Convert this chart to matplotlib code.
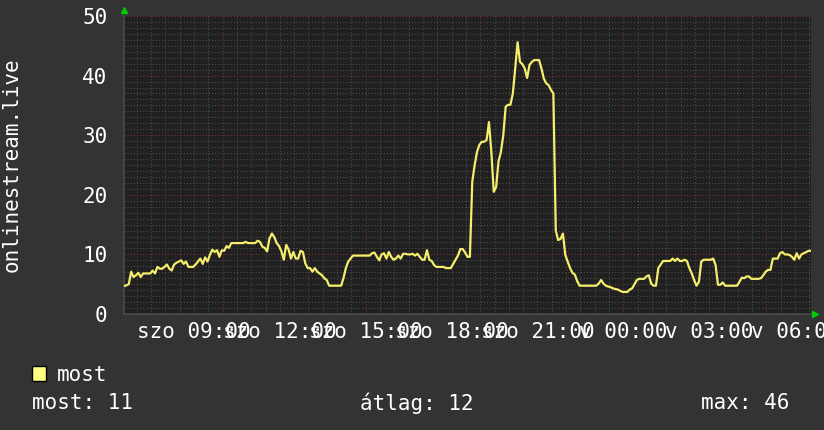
import numpy as np
import matplotlib.pyplot as plt

plt.rcParams['font.family'] = ['DejaVu Sans Mono']

# 5-minute samples, one row per hour, window starts ~06:33 on "szo"
start_hour = 6.555
step_min = 5
most = [
    4.7, 4.8, 5.0, 7.1, 6.2, 6.5, 6.9, 6.2, 6.8, 6.8, 6.8, 6.8,
    7.3, 6.8, 7.9, 7.6, 7.6, 7.9, 8.3, 7.6, 7.3, 8.3, 8.6, 8.8,
    9.0, 8.4, 8.8, 7.9, 7.9, 7.9, 8.3, 8.8, 9.3, 8.4, 9.5, 8.8,
    9.9, 10.8, 10.4, 10.7, 9.6, 10.7, 10.6, 11.4, 11.1, 11.9, 11.9, 11.9,
    11.9, 11.9, 11.9, 12.1, 11.9, 11.9, 11.9, 11.9, 12.3, 12.1, 11.3, 11.1,
    10.5, 12.7, 13.5, 12.9, 11.9, 11.4, 10.5, 9.1, 11.6, 10.8, 9.3, 10.4,
    9.3, 9.3, 10.6, 10.4, 8.5, 7.7, 7.7, 7.1, 7.7, 7.1, 6.8, 6.5,
    6.0, 5.7, 4.75, 4.75, 4.75, 4.75, 4.75, 4.75, 6.0, 7.7, 8.8, 9.3,
    9.8, 9.8, 9.8, 9.8, 9.8, 9.8, 9.8, 9.8, 10.2, 10.3, 9.6, 9.0,
    10.0, 10.2, 9.3, 10.4, 9.6, 9.1, 9.3, 9.8, 9.3, 10.1, 10.1, 10.0,
    10.0, 10.1, 9.8, 10.1, 9.6, 9.1, 9.1, 10.7, 9.1, 8.9, 8.2, 7.9,
    7.9, 7.9, 7.9, 7.7, 7.7, 7.7, 8.4, 9.1, 9.8, 10.9, 10.9, 10.3,
    9.6, 9.6, 22.2, 25.0, 27.2, 28.4, 28.9, 28.9, 29.2, 32.2, 27.2, 20.5,
    21.3, 25.6, 27.2, 30.0, 34.8, 35.1, 35.1, 37.0, 41.2, 45.6, 42.3, 41.9,
    41.2, 39.6, 41.8, 42.3, 42.6, 42.6, 42.6, 41.2, 39.5, 38.7, 38.4, 37.6,
    37.0, 14.0, 12.4, 12.6, 13.5, 9.9, 8.8, 7.7, 6.9, 6.6, 5.5, 4.75,
    4.75, 4.75, 4.75, 4.75, 4.75, 4.75, 4.75, 5.1, 5.7, 5.1, 4.75, 4.6,
    4.5, 4.3, 4.2, 4.1, 3.9, 3.7, 3.7, 3.7, 4.1, 4.3, 5.0, 5.7,
    5.9, 5.9, 5.9, 6.3, 6.5, 5.1, 4.75, 4.75, 7.7, 8.3, 8.9, 8.9,
    8.9, 8.9, 9.3, 8.9, 9.3, 8.9, 8.9, 9.1, 8.9, 7.7, 6.8, 5.7,
    4.75, 5.4, 8.8, 9.1, 9.1, 9.1, 9.1, 9.3, 8.2, 4.9, 4.9, 5.3,
    4.75, 4.75, 4.75, 4.75, 4.75, 4.75, 5.4, 6.1, 6.0, 6.3, 6.3, 5.9,
    5.9, 5.9, 5.9, 6.0, 6.5, 7.1, 7.4, 7.4, 9.3, 9.3, 9.3, 10.2,
    10.4, 10.0, 10.0, 9.9, 9.6, 9.1, 10.2, 9.3, 10.0, 10.2, 10.4, 10.6,
    10.6,
]

tick_hours = [9, 12, 15, 18, 21, 24, 27, 30]
tick_labels = ["szo 09:00", "szo 12:00", "szo 15:00", "szo 18:00",
               "szo 21:00", "v 00:00", "v 03:00", "v 06:00"]
y_ticks = [0, 10, 20, 30, 40, 50]
ylabel = "onlinestream.live"
series_name = "most"
stat_names = ["most", "átlag", "max"]
stat_values = ["11", "12", "46"]

bg = '#333333'
canvas = '#202020'
minor_c = '#505050'
major_c = '#7a3535'
line_c = '#f4ee6c'
dots = (0, (1, 2))

fig = plt.figure(figsize=(8.24, 4.30), dpi=100, facecolor=bg)
ax = fig.add_axes([124 / 824, 116 / 430, 687 / 824, 298 / 430])
ax.set_facecolor(canvas)

t = start_hour + np.arange(len(most)) * step_min / 60
x0, x1 = start_hour, start_hour + 24

# grid
minor_x = [h for h in np.arange(6.5, 31, 0.5) if h % 1 != 0]
major_x = np.arange(7, 31)
ax.vlines(minor_x, 0, 50, colors=minor_c, lw=0.75, linestyles=dots, zorder=1)
ax.vlines(major_x, 0, 50, colors=major_c, lw=0.75, linestyles=dots, zorder=1)
minor_y = [v for v in range(1, 50) if v % 10 != 0]
ax.hlines(minor_y, x0, x1, colors=minor_c, lw=0.75, linestyles=dots, zorder=1)
ax.hlines(y_ticks[1:], x0, x1, colors=major_c, lw=0.75, linestyles=dots, zorder=1)

ax.plot(t, most, color=line_c, lw=1.6, zorder=3)

ax.set_xlim(x0, x1)
ax.set_ylim(0, 50)
ax.set_xticks(tick_hours)
ax.set_xticklabels(tick_labels)
ax.set_yticks(y_ticks)
ax.tick_params(axis='both', length=0, colors='white', labelsize=15)
ax.tick_params(axis='x', pad=5.5)
ax.tick_params(axis='y', pad=12)
for s in ['top', 'right']:
    ax.spines[s].set_visible(False)
for s in ['left', 'bottom']:
    ax.spines[s].set_color('#4a4a4a')
    ax.spines[s].set_linewidth(1.2)

# arrows
ax.plot([0], [1.02], marker='^', color='#00cc00', ms=5, transform=ax.transAxes, clip_on=False)
ax.plot([1.006], [0], marker='>', color='#00cc00', ms=5, transform=ax.transAxes, clip_on=False)

fig.text(12 / 824, 1 - 165 / 430, ylabel, rotation=90, color='white',
         fontsize=15, ha='center', va='center')

# legend
fig.patches.append(plt.Rectangle((32 / 824, 1 - 381 / 430), 14 / 824, 15 / 430,
                                 transform=fig.transFigure, facecolor='#ffff80',
                                 edgecolor='black', lw=1))
fig.text(57 / 824, 1 - 375 / 430, series_name, color='white', fontsize=15, va='center')
stat_x = [32, 360, 701]
for sx, n, v in zip(stat_x, stat_names, stat_values):
    fig.text(sx / 824, 1 - 403 / 430, f"{n}: {v}", color='white', fontsize=15, va='center')

fig.savefig('out.png', dpi=100, facecolor=bg)
